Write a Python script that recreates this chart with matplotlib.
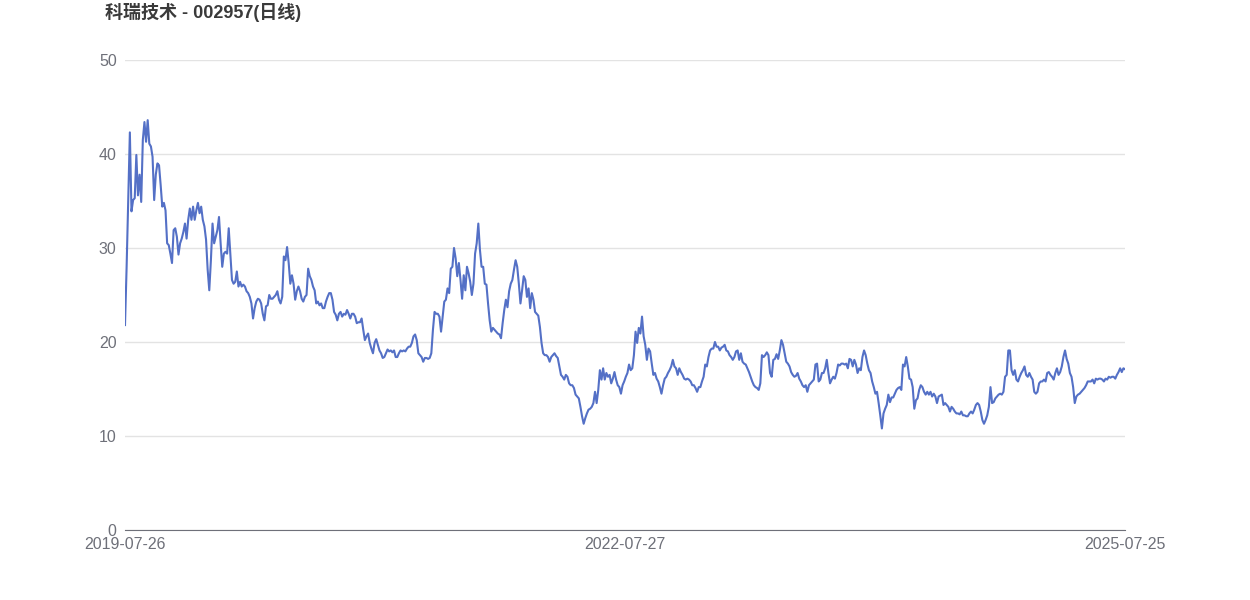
import matplotlib.pyplot as plt

plt.rcParams['font.family'] = ['Liberation Sans', 'Noto Sans CJK SC', 'DejaVu Sans']

title = "科瑞技术 - 002957(日线)"
date_labels = ["2019-07-26", "2022-07-27", "2025-07-25"]

# daily close in five stretches (left to right)
close_2019_2020 = [21.8, 28.0, 35.0, 42.3, 33.9, 35.1, 35.3, 39.9, 35.6, 37.8, 34.9, 41.5,
                   43.4, 41.3, 43.6, 41.1, 40.8, 39.7, 35.1, 37.8, 39.0, 38.8,
                   36.7, 34.4, 34.8, 34.0, 30.5, 30.3, 29.4, 28.4, 31.9, 32.1,
                   31.2, 29.3, 30.5, 31.0, 31.7, 32.6, 31.0, 33.0, 34.2, 33.0,
                   34.4, 33.0, 34.0, 34.8, 33.7, 34.4, 33.0, 32.3, 30.9, 27.7,
                   25.5, 28.7, 32.6, 30.5, 31.2, 31.9, 33.3, 30.5, 28.0, 29.4,
                   29.6, 29.4, 32.1, 29.4, 26.6, 26.2, 26.4, 27.5, 25.9, 26.4,
                   25.9, 26.1, 25.9, 25.4, 25.2, 24.8, 24.1, 22.5, 23.6, 24.3,
                   24.6, 24.5, 24.1, 23.0, 22.3, 23.8, 23.9, 25.0, 24.6, 24.6,
                   24.8, 25.0, 25.4, 24.5, 24.1, 24.8, 29.1, 28.7, 30.1, 28.4,
                   26.2, 27.1, 26.2, 24.5, 25.4, 25.9, 25.4, 24.6, 24.3, 24.8,
                   25.0, 27.8, 27.0, 26.6, 25.9, 25.5, 24.1, 24.3, 23.9, 24.1,
                   23.6, 23.6, 24.3, 24.8]
close_2020_2021 = [25.2, 25.2, 24.5, 23.2, 22.9, 22.3, 23.0, 23.2, 22.7, 23.0,
                   22.9, 23.4, 23.0, 22.5, 23.0, 23.0, 22.7, 22.0, 22.1, 22.1,
                   22.5, 21.3, 20.2, 20.6, 20.9, 19.9, 19.3, 18.8, 19.9, 20.3,
                   19.7, 19.1, 18.8, 18.3, 18.4, 18.8, 19.2, 19.0, 19.1, 18.9,
                   19.1, 18.4, 18.4, 18.8, 19.1, 19.0, 19.1, 19.0, 19.3, 19.5,
                   19.5, 19.9, 20.6, 20.8, 20.2, 18.8, 18.6, 18.4, 17.9, 18.3,
                   18.3, 18.2, 18.3, 18.8, 21.3, 23.2, 23.0, 23.0, 22.7, 21.1,
                   22.7, 24.3, 24.5, 25.7, 25.2, 27.8, 28.0, 30.0, 28.9, 27.0,
                   28.4, 26.6, 24.6, 27.1, 25.5, 28.0, 27.3, 26.4, 25.0, 26.2,
                   29.4, 30.5, 32.6, 29.8, 28.0, 28.0, 26.2, 26.1, 24.1, 22.3,
                   21.1, 21.5, 21.3, 21.1, 20.9, 20.8, 20.4, 22.0, 23.4, 24.5,
                   23.7, 25.4, 26.2, 26.6, 27.7, 28.7, 28.0, 26.2, 24.1, 25.5,
                   27.0, 26.6]
close_2021_2022 = [24.8, 25.7, 23.6, 25.2, 24.5, 23.2, 23.0, 22.8, 21.6, 19.9,
                   18.8, 18.6, 18.6, 18.4, 17.9, 18.4, 18.6, 18.8, 18.5, 18.3,
                   17.4, 16.5, 16.3, 16.0, 16.5, 16.3, 15.6, 15.4, 15.4, 15.1,
                   14.4, 14.2, 14.0, 13.1, 12.1, 11.3, 11.9, 12.4, 12.8, 12.9,
                   13.1, 13.5, 14.7, 13.5, 14.9, 17.0, 16.0, 17.2, 16.0, 16.7,
                   16.3, 16.5, 15.6, 16.1, 16.8, 16.0, 15.4, 15.2, 14.5, 15.4,
                   15.8, 16.3, 16.7, 17.6, 17.0, 17.2, 18.6, 21.1, 19.9, 21.5,
                   20.9, 22.7, 20.6, 19.7, 18.1, 19.3, 19.0, 17.7, 16.5, 16.7,
                   16.1, 15.8, 15.2, 14.5, 15.4, 16.1, 16.3, 16.7, 17.0, 17.4,
                   18.1, 17.4, 17.2, 16.5, 17.2, 16.8, 16.5, 16.1, 16.0, 16.1,
                   16.0, 15.8, 15.4, 15.4, 15.1, 14.7, 15.2, 15.2, 15.8, 16.3,
                   17.6, 17.4, 18.4, 19.1, 19.3, 19.3, 20.0, 19.5, 19.5, 19.1,
                   19.4, 19.5, 19.7]
close_2022_2024 = [19.1, 19.0, 18.6, 18.4, 18.1, 18.4, 19.0, 19.1, 18.1, 18.8,
                   17.9, 17.7, 17.6, 17.2, 16.8, 16.3, 15.8, 15.4, 15.2, 15.1,
                   14.9, 15.6, 18.6, 18.4, 18.6, 18.9, 18.6, 16.7, 16.3, 18.1,
                   18.2, 18.7, 18.2, 19.1, 20.2, 19.7, 18.8, 17.9, 17.7, 17.4,
                   16.8, 16.5, 16.3, 16.4, 16.7, 16.1, 15.8, 15.4, 15.2, 15.4,
                   14.7, 15.4, 15.6, 15.8, 16.0, 17.6, 17.7, 15.8, 16.0, 16.7,
                   16.7, 17.2, 18.1, 16.7, 15.6, 16.0, 16.3, 16.1, 16.7, 17.6,
                   17.5, 17.7, 17.7, 17.6, 17.7, 17.2, 18.2, 18.1, 17.4, 18.1,
                   17.6, 16.7, 17.2, 17.0, 18.4, 19.1, 18.6, 17.7, 17.0, 16.7,
                   15.8, 15.2, 14.5, 14.7, 13.5, 12.2, 10.8, 12.4, 12.9, 13.3,
                   14.4, 13.6, 14.1, 14.1, 14.5, 14.9, 15.1, 15.2, 14.9, 17.6,
                   17.4, 18.4, 17.4, 16.1, 16.0, 15.2, 12.9, 13.8, 14.0, 14.9,
                   15.4, 15.2, 14.7, 14.4]
close_2024_2025 = [14.7, 14.4, 14.7, 14.2, 14.5, 14.2, 13.5, 14.2, 14.3, 14.4,
                   13.3, 13.5, 13.3, 13.1, 12.6, 13.1, 12.9, 12.6, 12.4, 12.4,
                   12.3, 12.6, 12.2, 12.2, 12.1, 12.1, 12.4, 12.6, 12.4, 12.8,
                   13.3, 13.5, 13.3, 12.6, 11.7, 11.3, 11.7, 12.2, 13.1, 15.2,
                   13.5, 13.6, 14.0, 14.2, 14.4, 14.5, 14.4, 14.7, 16.3, 16.5,
                   19.1, 19.1, 17.0, 16.5, 17.0, 16.0, 15.8, 16.3, 16.7, 17.0,
                   17.4, 16.5, 16.3, 16.7, 16.3, 16.0, 14.7, 14.5, 14.7, 15.6,
                   15.8, 15.8, 16.0, 15.8, 16.7, 16.8, 16.5, 16.3, 16.0, 16.7,
                   17.2, 16.5, 16.8, 17.4, 18.4, 19.1, 18.2, 17.7, 16.7, 16.3,
                   15.2, 13.5, 14.2, 14.4, 14.5, 14.7, 14.9, 15.1, 15.4, 15.8,
                   15.8, 15.8, 16.0, 15.6, 16.1, 16.0, 16.1, 16.1, 16.0, 15.8,
                   16.1, 16.0, 16.3, 16.2, 16.3, 16.3, 16.1, 16.5, 16.8, 17.2,
                   16.8, 17.2, 17.1]

close = close_2019_2020 + close_2020_2021 + close_2021_2022 + close_2022_2024 + close_2024_2025
n = len(close)
x = list(range(n))

fig = plt.figure(figsize=(12.5, 6), dpi=100)
ax = fig.add_axes([0.1, 0.1167, 0.8, 0.7833])

ax.plot(x, close, color='#5470c6', lw=1.5, solid_joinstyle='round')

ax.set_xlim(0, n - 1)
ax.set_ylim(0, 50)
ax.set_yticks([0, 10, 20, 30, 40, 50])
ax.set_xticks([0, (n - 1) / 2, n - 1])
ax.set_xticklabels(date_labels)

ax.grid(axis='y', color='#e3e3e3', lw=1)
ax.set_axisbelow(True)
for s in ['top', 'right', 'left']:
    ax.spines[s].set_visible(False)
ax.spines['bottom'].set_color('#6e7079')
ax.tick_params(axis='both', length=0, colors='#6e7079', labelsize=11.5)
ax.tick_params(axis='y', pad=6)
ax.tick_params(axis='x', pad=5)

fig.text(0.084, 0.995, title, fontsize=13, fontweight='bold', color='#3a3a3a',
         ha='left', va='top')

fig.savefig('out.png', dpi=100, facecolor='white')
